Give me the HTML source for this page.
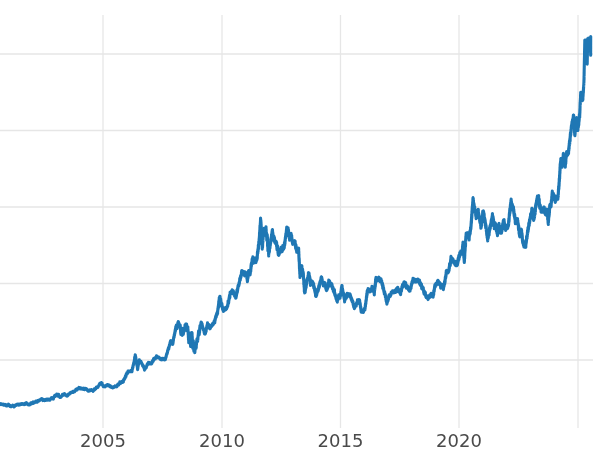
<!DOCTYPE html>
<html lang="en">
<head>
<meta charset="utf-8">
<title>Chart</title>
<style>
  html, body { margin: 0; padding: 0; background: #ffffff; }
  body { width: 600px; height: 450px; overflow: hidden; }
  svg { display: block; will-change: transform; }
  .grid line { stroke: #e6e6e6; stroke-width: 1.3; }
  .ticks text { font-family: "DejaVu Sans", "Liberation Sans", sans-serif; font-size: 18px; fill: #4a4a4a; text-anchor: middle; }
  .series { fill: none; stroke: #1f77b4; stroke-width: 3.1; stroke-linejoin: round; stroke-linecap: butt; }
</style>
</head>
<body>
<svg width="600" height="450" viewBox="0 0 600 450">
  <rect x="0" y="0" width="600" height="450" fill="#ffffff"/>
  <g class="grid">
    <line x1="0" y1="54" x2="593" y2="54"/>
    <line x1="0" y1="130.5" x2="593" y2="130.5"/>
    <line x1="0" y1="207" x2="593" y2="207"/>
    <line x1="0" y1="283.5" x2="593" y2="283.5"/>
    <line x1="0" y1="360" x2="593" y2="360"/>
    <line x1="103" y1="15" x2="103" y2="428"/>
    <line x1="222" y1="15" x2="222" y2="428"/>
    <line x1="340.5" y1="15" x2="340.5" y2="428"/>
    <line x1="459" y1="15" x2="459" y2="428"/>
    <line x1="578" y1="15" x2="578" y2="428"/>
  </g>
  <polyline class="series" points="-2.00,403.64 -1.50,404.62 -1.00,403.53 -0.50,404.73 0.00,403.78 0.40,404.26 0.80,403.58 1.20,404.43 1.60,404.13 2.00,404.67 2.43,404.09 2.86,404.54 3.29,404.22 3.71,405.24 4.14,404.67 4.57,405.19 5.00,404.42 5.43,405.33 5.86,404.91 6.29,406.00 6.71,405.12 7.14,405.98 7.57,404.76 8.00,405.33 8.43,404.20 8.86,405.48 9.29,405.11 9.71,406.32 10.14,405.38 10.57,406.78 11.00,405.99 11.44,406.67 11.88,405.72 12.31,406.05 12.75,405.16 13.19,406.18 13.62,406.15 14.06,406.90 14.50,405.84 14.89,406.28 15.28,405.21 15.67,405.67 16.06,404.80 16.44,405.34 16.83,404.24 17.22,404.96 17.61,404.05 18.00,404.54 18.43,404.10 18.86,405.17 19.29,404.39 19.71,404.84 20.14,404.10 20.57,404.63 21.00,403.92 21.44,404.29 21.89,403.69 22.33,404.24 22.78,403.51 23.22,403.97 23.67,403.79 24.11,404.66 24.56,403.78 25.00,404.47 25.45,403.10 25.91,403.74 26.36,402.63 26.82,403.89 27.27,403.70 27.73,404.62 28.18,403.89 28.64,404.82 29.09,404.06 29.55,404.95 30.00,404.03 30.40,403.76 30.80,402.87 31.20,404.11 31.60,403.71 32.00,403.71 32.40,402.42 32.80,402.84 33.20,401.86 33.60,403.31 34.00,402.28 34.44,402.80 34.89,401.83 35.33,402.17 35.78,401.12 36.22,402.06 36.67,401.66 37.11,402.20 37.56,400.71 38.00,401.14 38.40,400.28 38.80,401.19 39.20,400.14 39.60,400.58 40.00,399.79 40.40,400.03 40.80,399.24 41.20,399.63 41.60,398.66 42.00,399.49 42.44,399.01 42.88,400.58 43.31,399.51 43.75,400.12 44.19,399.63 44.62,400.51 45.06,399.87 45.50,400.35 45.94,399.25 46.38,400.19 46.81,399.43 47.25,400.13 47.69,399.19 48.12,399.89 48.56,399.11 49.00,400.07 49.44,399.36 49.89,400.08 50.33,398.96 50.78,399.16 51.22,397.89 51.67,398.42 52.11,397.58 52.56,398.64 53.00,398.28 53.31,399.16 53.62,397.72 53.92,397.48 54.23,396.27 54.54,396.41 54.85,395.23 55.15,396.47 55.46,395.54 55.77,395.89 56.08,394.89 56.38,395.14 56.69,394.18 57.00,394.72 57.34,394.28 57.67,395.56 58.01,395.01 58.35,396.23 58.68,394.39 59.02,396.18 59.35,396.29 59.69,397.42 60.03,396.85 60.36,397.46 60.70,396.92 61.00,397.23 61.30,396.28 61.60,396.55 61.90,395.73 62.20,395.71 62.50,394.29 62.80,395.07 63.10,394.48 63.40,395.24 63.70,393.97 64.00,394.10 64.41,393.53 64.83,394.89 65.24,394.49 65.65,395.23 66.06,394.91 66.47,395.90 66.89,395.69 67.30,396.16 67.67,394.88 68.05,395.44 68.42,393.99 68.80,394.56 69.17,393.81 69.55,394.08 69.92,392.92 70.30,393.25 70.67,392.36 71.05,393.00 71.42,392.00 71.80,392.56 72.17,391.89 72.55,392.20 72.92,391.45 73.30,392.28 73.67,391.31 74.05,391.95 74.42,390.96 74.80,391.57 75.17,390.51 75.55,390.64 75.92,389.21 76.30,389.76 76.67,388.80 77.05,390.01 77.42,388.89 77.80,389.17 78.17,388.41 78.55,388.67 78.92,387.41 79.30,388.08 79.72,387.57 80.15,388.98 80.58,388.12 81.00,388.96 81.42,388.22 81.85,388.92 82.28,388.31 82.70,389.25 83.13,388.61 83.57,389.32 84.00,388.22 84.43,389.68 84.87,388.59 85.30,388.88 85.64,388.37 85.97,389.27 86.31,388.65 86.65,389.86 86.99,389.18 87.33,390.41 87.66,390.10 88.00,391.04 88.43,390.49 88.86,391.11 89.29,390.19 89.71,390.54 90.14,389.80 90.57,390.71 91.00,389.95 91.43,390.43 91.86,389.73 92.29,390.62 92.71,390.28 93.14,391.33 93.57,389.93 94.00,390.41 94.33,388.75 94.66,389.80 95.00,388.77 95.33,389.20 95.66,388.59 95.99,388.60 96.32,387.20 96.65,387.64 96.99,386.91 97.32,387.38 97.65,386.62 97.98,387.36 98.31,386.18 98.65,386.04 98.98,384.92 99.31,385.06 99.64,383.64 99.97,384.29 100.30,383.18 100.64,384.16 100.97,382.81 101.30,383.33 101.55,382.83 101.80,383.83 102.05,382.89 102.30,384.80 102.55,384.76 102.80,385.85 103.05,385.30 103.30,386.58 103.74,385.91 104.19,386.65 104.63,385.84 105.08,386.77 105.52,386.02 105.97,386.20 106.41,385.17 106.86,385.56 107.30,384.49 107.70,385.27 108.10,384.67 108.50,385.91 108.90,385.01 109.30,386.10 109.70,385.70 110.10,386.78 110.50,385.94 110.90,387.16 111.30,386.62 111.77,387.46 112.24,386.90 112.71,387.92 113.18,386.99 113.65,387.60 114.12,386.62 114.59,387.02 115.06,385.91 115.53,386.67 116.00,386.03 116.31,386.61 116.63,386.20 116.94,386.76 117.25,385.17 117.57,385.20 117.88,384.13 118.19,385.18 118.51,384.73 118.82,384.81 119.13,383.67 119.45,383.57 119.76,381.91 120.07,382.31 120.39,381.82 120.70,383.36 121.13,382.00 121.57,382.20 122.00,381.50 122.43,382.40 122.87,381.61 123.30,381.99 123.49,379.99 123.68,380.20 123.86,379.20 124.05,379.94 124.24,378.78 124.43,379.15 124.62,378.12 124.80,378.79 124.99,377.80 125.18,377.96 125.37,376.12 125.56,376.81 125.74,375.69 125.93,376.54 126.12,374.41 126.31,375.08 126.50,373.71 126.68,374.21 126.87,372.70 127.06,374.05 127.25,373.18 127.44,373.61 127.62,372.18 127.81,372.60 128.00,371.08 128.44,372.20 128.89,371.13 129.33,371.80 129.78,371.07 130.22,371.67 130.67,370.55 131.11,371.34 131.56,370.64 132.00,371.72 132.09,369.94 132.18,370.12 132.28,369.02 132.37,369.43 132.46,367.89 132.55,368.63 132.64,367.30 132.73,368.23 132.82,366.97 132.92,367.32 133.01,365.68 133.10,365.81 133.19,365.05 133.28,365.62 133.38,364.64 133.47,364.86 133.56,363.58 133.65,364.11 133.74,362.72 133.83,363.26 133.93,362.15 134.02,363.09 134.11,361.45 134.20,362.04 134.29,360.39 134.38,360.95 134.48,359.27 134.57,359.80 134.66,357.07 134.75,358.58 134.84,357.41 134.93,358.14 135.03,356.31 135.12,357.15 135.21,354.87 135.30,356.01 135.38,355.06 135.45,357.14 135.53,356.71 135.61,357.85 135.68,356.58 135.76,358.07 135.84,357.58 135.91,359.20 135.99,358.71 136.07,360.73 136.14,359.87 136.22,361.59 136.30,361.16 136.37,362.22 136.45,361.34 136.53,362.65 136.60,361.95 136.68,363.38 136.76,363.33 136.83,365.09 136.91,364.29 136.99,365.04 137.06,364.39 137.14,366.38 137.22,365.47 137.29,366.94 137.37,366.63 137.45,368.36 137.52,368.19 137.60,369.61 137.69,367.63 137.78,368.97 137.87,367.13 137.96,367.52 138.05,365.42 138.14,366.28 138.23,364.91 138.32,365.53 138.41,363.97 138.49,364.60 138.58,363.00 138.67,363.52 138.76,362.26 138.85,362.95 138.94,361.95 139.03,362.44 139.12,361.09 139.21,361.79 139.30,359.71 139.57,361.77 139.84,360.98 140.11,362.72 140.38,361.87 140.65,362.56 140.92,361.16 141.19,362.91 141.46,362.66 141.73,363.94 142.00,363.49 142.19,364.52 142.39,364.21 142.58,365.95 142.77,365.26 142.96,366.35 143.16,365.35 143.35,366.65 143.54,365.97 143.74,367.54 143.93,367.15 144.12,368.45 144.31,367.89 144.51,370.09 144.70,368.68 144.92,369.39 145.14,368.20 145.36,368.65 145.58,367.14 145.80,368.24 146.02,367.22 146.24,367.74 146.46,366.29 146.68,366.58 146.90,365.05 147.12,365.20 147.34,363.70 147.56,364.61 147.78,363.67 148.00,364.48 148.47,362.39 148.94,363.92 149.41,362.56 149.89,363.83 150.36,362.82 150.83,363.83 151.30,362.76 151.53,364.00 151.75,362.60 151.98,363.36 152.20,361.30 152.43,362.29 152.65,360.44 152.88,361.12 153.10,360.20 153.32,361.12 153.55,358.71 153.78,359.87 154.00,358.23 154.41,358.96 154.82,357.79 155.24,358.96 155.65,357.51 156.06,358.03 156.48,355.82 156.89,357.17 157.30,356.62 157.70,357.58 158.10,356.96 158.50,357.99 158.90,357.20 159.30,358.27 159.70,357.88 160.10,359.27 160.50,358.68 160.90,359.59 161.30,359.11 161.74,359.74 162.19,358.47 162.63,359.53 163.08,358.44 163.52,359.52 163.97,358.83 164.41,359.92 164.86,358.06 165.30,359.74 165.44,358.01 165.57,358.74 165.71,357.55 165.84,357.81 165.98,356.72 166.11,357.04 166.25,355.44 166.38,355.95 166.52,354.20 166.65,354.90 166.78,353.53 166.92,354.34 167.06,353.00 167.19,353.69 167.32,352.25 167.46,352.57 167.59,350.70 167.73,351.00 167.87,349.69 168.00,350.52 168.13,348.82 168.27,349.09 168.41,347.88 168.54,349.30 168.68,348.24 168.81,348.99 168.94,346.75 169.08,347.48 169.22,345.88 169.35,346.60 169.48,344.68 169.62,345.72 169.75,344.04 169.89,344.81 170.02,342.72 170.16,344.04 170.29,341.66 170.43,342.92 170.56,340.87 170.70,341.70 171.03,340.66 171.37,342.63 171.70,341.59 172.03,343.48 172.37,343.08 172.70,344.36 172.79,342.96 172.88,343.83 172.97,341.92 173.06,342.93 173.15,340.86 173.24,341.55 173.33,339.26 173.42,340.32 173.51,338.31 173.60,338.64 173.69,337.13 173.78,338.23 173.87,336.70 173.96,337.64 174.04,336.19 174.13,337.11 174.22,334.79 174.31,335.37 174.40,334.14 174.49,335.47 174.58,333.69 174.67,334.19 174.76,332.32 174.85,333.35 174.94,331.57 175.03,332.46 175.12,330.40 175.21,330.97 175.30,329.40 175.41,331.12 175.52,328.64 175.63,329.74 175.74,326.77 175.85,328.81 175.95,327.72 176.06,328.22 176.17,325.84 176.28,327.04 176.39,325.12 176.50,326.18 176.60,325.06 176.70,327.86 176.80,326.74 176.90,328.71 177.00,327.92 177.11,328.40 177.21,326.64 177.32,327.25 177.43,324.93 177.54,326.09 177.64,323.83 177.75,325.02 177.86,322.51 177.96,325.58 178.07,322.85 178.18,323.66 178.29,321.59 178.39,324.64 178.50,321.87 178.62,323.96 178.75,322.42 178.88,324.07 179.00,323.28 179.12,325.03 179.25,324.20 179.38,325.91 179.50,324.95 179.85,326.36 180.20,325.08 180.23,327.74 180.26,325.24 180.29,326.81 180.33,326.38 180.36,328.17 180.39,326.71 180.42,328.96 180.45,327.79 180.48,329.91 180.52,328.65 180.55,330.44 180.58,330.13 180.61,331.88 180.64,330.69 180.67,332.90 180.71,331.59 180.74,332.92 180.77,332.21 180.80,333.86 180.87,332.57 180.93,334.34 181.00,332.02 181.07,333.23 181.13,331.14 181.20,332.18 181.27,329.75 181.33,330.33 181.40,328.50 181.45,330.86 181.51,330.17 181.56,332.26 181.62,330.72 181.67,333.67 181.72,331.80 181.78,334.04 181.83,332.23 181.88,334.11 181.94,332.20 181.99,335.06 182.05,333.98 182.10,335.41 182.15,333.50 182.19,334.57 182.24,333.42 182.28,334.33 182.33,332.32 182.38,333.49 182.42,331.99 182.47,332.89 182.52,330.60 182.56,331.53 182.61,329.27 182.65,330.09 182.70,328.20 182.77,330.81 182.83,329.97 182.90,332.01 182.97,330.97 183.03,332.56 183.10,331.51 183.17,333.39 183.23,331.88 183.30,334.40 183.36,332.97 183.42,333.58 183.48,331.81 183.54,332.51 183.60,330.12 183.66,330.51 183.72,329.49 183.78,330.96 183.84,328.94 183.90,329.52 184.03,328.42 184.15,330.24 184.28,328.97 184.40,331.11 184.45,329.10 184.51,329.74 184.56,328.73 184.62,330.16 184.67,328.22 184.73,329.67 184.78,327.86 184.84,328.88 184.89,326.33 184.95,327.07 185.00,324.70 185.38,326.02 185.75,324.08 186.12,326.04 186.50,324.10 186.57,325.23 186.63,324.15 186.70,326.74 186.77,325.77 186.83,327.94 186.90,326.46 186.97,328.76 187.03,328.33 187.10,330.35 187.17,329.42 187.23,331.03 187.30,329.97 187.40,330.93 187.50,328.85 187.60,329.36 187.70,327.49 187.80,327.82 187.83,326.85 187.86,329.25 187.89,328.70 187.93,331.39 187.96,328.99 187.99,330.61 188.02,329.81 188.05,332.32 188.08,331.53 188.11,332.83 188.14,331.87 188.18,333.78 188.21,333.30 188.24,335.08 188.27,333.42 188.30,335.08 188.33,334.91 188.36,337.36 188.39,336.27 188.43,337.70 188.46,336.72 188.49,339.78 188.52,338.36 188.55,339.57 188.58,338.98 188.61,340.50 188.64,339.16 188.68,340.27 188.71,340.42 188.74,342.71 188.77,341.40 188.80,342.82 188.84,340.91 188.88,341.74 188.93,339.88 188.97,340.81 189.01,337.93 189.05,339.66 189.09,338.27 189.14,339.55 189.18,337.65 189.22,338.34 189.26,336.83 189.31,338.16 189.35,335.62 189.39,336.34 189.43,334.68 189.47,335.89 189.52,332.88 189.56,334.99 189.60,333.23 189.64,336.10 189.68,334.83 189.72,336.26 189.75,335.60 189.79,337.45 189.83,336.62 189.87,337.97 189.91,337.15 189.95,338.30 189.98,337.80 190.02,339.51 190.06,338.85 190.10,340.41 190.14,339.07 190.18,341.28 190.22,340.40 190.25,342.24 190.29,341.29 190.33,343.10 190.37,342.14 190.41,343.67 190.45,341.96 190.48,344.95 190.52,344.48 190.56,346.18 190.60,344.79 190.63,346.42 190.66,344.04 190.69,344.86 190.72,342.93 190.75,343.86 190.78,342.64 190.81,343.26 190.84,341.64 190.87,342.59 190.90,340.99 190.93,341.82 190.97,339.93 191.00,340.50 191.03,338.58 191.06,338.96 191.09,337.22 191.12,338.07 191.15,335.98 191.18,337.41 191.21,335.52 191.24,336.36 191.27,334.31 191.30,335.03 191.48,333.52 191.65,334.21 191.82,332.51 192.00,333.07 192.03,332.75 192.05,334.97 192.08,333.60 192.10,336.14 192.13,335.71 192.15,337.47 192.18,336.40 192.21,337.85 192.23,336.37 192.26,338.44 192.28,337.36 192.31,339.54 192.34,338.96 192.36,340.35 192.39,339.80 192.41,341.47 192.44,340.27 192.46,342.29 192.49,341.69 192.52,343.12 192.54,342.11 192.57,343.86 192.59,343.20 192.62,345.09 192.65,343.66 192.67,346.12 192.70,344.89 192.72,346.78 192.75,346.34 192.77,348.11 192.80,347.10 192.83,348.30 192.87,346.10 192.90,346.59 192.93,344.99 192.97,345.71 193.00,343.85 193.03,344.44 193.07,342.30 193.10,343.86 193.13,342.39 193.17,343.80 193.20,341.78 193.23,342.33 193.27,340.54 193.30,342.03 193.33,341.13 193.35,342.72 193.38,342.21 193.40,343.57 193.43,342.50 193.45,343.80 193.48,343.17 193.50,344.83 193.53,344.15 193.55,346.17 193.58,345.17 193.60,346.84 193.62,345.87 193.65,347.68 193.68,347.30 193.70,348.63 193.72,347.29 193.75,348.80 193.78,348.29 193.80,350.65 193.83,349.35 193.85,351.07 193.88,349.84 193.90,351.29 193.93,350.00 193.95,350.92 193.98,349.54 194.01,350.04 194.03,348.60 194.06,349.86 194.09,347.78 194.11,348.50 194.14,346.81 194.17,347.29 194.19,345.60 194.22,346.09 194.25,344.81 194.27,345.52 194.30,343.20 194.33,344.96 194.36,344.66 194.39,346.22 194.42,345.47 194.45,346.83 194.48,346.29 194.51,348.02 194.54,347.81 194.56,349.56 194.59,348.53 194.62,349.96 194.65,349.16 194.68,350.46 194.71,349.75 194.74,351.55 194.77,351.15 194.80,352.62 194.84,351.42 194.88,352.23 194.92,350.75 194.96,351.25 195.01,349.41 195.05,350.19 195.09,348.62 195.13,349.71 195.17,347.88 195.21,348.44 195.25,346.26 195.29,347.55 195.34,345.93 195.38,346.48 195.42,344.53 195.46,345.22 195.50,343.61 195.56,346.01 195.62,344.73 195.69,347.09 195.75,345.47 195.81,346.78 195.88,346.35 195.94,347.93 196.00,347.72 196.05,348.52 196.10,346.26 196.14,347.39 196.19,346.20 196.24,347.77 196.29,345.45 196.33,345.44 196.38,344.00 196.43,344.82 196.48,343.31 196.52,344.20 196.57,341.51 196.62,342.81 196.67,340.79 196.71,342.46 196.76,340.47 196.81,342.44 196.86,339.60 196.90,340.67 196.95,338.83 197.00,339.40 197.10,338.80 197.20,340.07 197.30,339.10 197.40,340.78 197.50,339.58 197.60,341.39 197.65,339.67 197.70,340.69 197.74,339.05 197.79,340.17 197.84,338.59 197.89,339.11 197.93,336.80 197.98,337.57 198.03,336.12 198.08,337.06 198.12,335.11 198.17,335.92 198.22,334.90 198.27,336.15 198.31,334.14 198.36,334.41 198.41,332.66 198.46,333.57 198.50,331.92 198.55,333.25 198.60,330.79 198.70,332.39 198.80,331.45 198.90,333.51 199.00,332.82 199.10,334.68 199.20,334.16 199.24,334.83 199.28,332.61 199.33,333.77 199.37,331.73 199.41,333.13 199.45,331.19 199.49,332.62 199.54,330.24 199.58,332.37 199.62,329.70 199.66,331.11 199.71,327.71 199.75,328.70 199.79,327.18 199.83,328.67 199.87,326.65 199.92,327.82 199.96,325.45 200.00,326.22 200.17,325.49 200.33,327.55 200.50,326.07 200.56,327.67 200.63,326.35 200.69,327.28 200.75,324.94 200.82,326.15 200.88,322.71 200.95,324.54 201.01,322.94 201.07,323.69 201.14,321.98 201.20,323.00 201.34,322.30 201.47,323.80 201.61,322.65 201.74,324.92 201.88,323.76 202.01,325.72 202.15,323.79 202.29,327.03 202.42,325.50 202.56,327.53 202.69,326.63 202.83,328.01 202.96,327.46 203.10,329.69 203.24,328.67 203.37,330.01 203.51,329.59 203.64,330.63 203.78,329.40 203.91,331.69 204.05,330.94 204.19,332.83 204.32,332.16 204.46,333.98 204.59,332.54 204.73,334.05 204.86,331.71 205.00,334.24 205.11,332.59 205.22,333.52 205.33,332.33 205.43,333.58 205.54,331.80 205.65,332.46 205.76,330.17 205.87,330.75 205.98,329.06 206.09,331.65 206.20,328.97 206.30,329.85 206.41,327.89 206.52,328.92 206.63,327.27 206.74,328.44 206.85,325.84 206.96,327.57 207.07,325.03 207.17,326.66 207.28,324.80 207.39,326.06 207.50,322.90 207.75,325.27 208.00,324.58 208.25,326.03 208.50,325.15 208.75,327.07 209.00,324.56 209.25,327.69 209.50,326.49 209.75,328.82 210.00,327.52 210.28,328.69 210.56,326.27 210.84,327.43 211.12,326.04 211.40,326.85 211.68,325.20 211.96,325.94 212.24,324.17 212.52,325.16 212.80,323.38 213.08,325.00 213.36,323.74 213.64,323.91 213.92,321.60 214.20,323.05 214.34,321.23 214.49,322.51 214.63,320.18 214.77,322.87 214.92,319.34 215.06,321.03 215.20,318.69 215.35,319.18 215.49,317.09 215.63,318.44 215.78,316.17 215.92,317.41 216.07,315.75 216.21,317.05 216.35,314.60 216.50,315.99 216.64,313.55 216.78,314.99 216.93,313.44 217.07,313.93 217.21,312.24 217.36,313.24 217.50,311.73 217.56,314.14 217.63,310.68 217.69,311.74 217.75,310.05 217.81,310.46 217.88,308.67 217.94,310.04 218.00,308.12 218.07,309.17 218.13,307.17 218.19,308.62 218.25,306.04 218.32,307.59 218.38,305.66 218.44,306.93 218.51,304.25 218.57,307.22 218.63,303.35 218.69,304.30 218.76,301.34 218.82,302.84 218.88,300.87 218.95,302.00 219.01,300.38 219.07,301.69 219.13,299.39 219.20,301.13 219.26,297.57 219.32,299.87 219.39,298.02 219.45,299.60 219.51,297.97 219.57,299.31 219.64,297.39 219.70,298.56 219.81,296.45 219.92,298.02 220.04,296.29 220.15,298.66 220.26,298.07 220.38,300.64 220.49,299.38 220.60,301.13 220.71,298.92 220.82,301.75 220.94,300.86 221.05,304.18 221.16,302.82 221.28,306.01 221.39,303.60 221.50,305.19 221.61,304.49 221.72,306.46 221.84,303.20 221.95,306.75 222.06,304.78 222.18,307.66 222.29,306.13 222.40,308.05 222.51,307.66 222.62,309.59 222.74,308.14 222.85,309.92 222.96,308.08 223.08,310.35 223.19,308.96 223.30,311.51 223.62,310.24 223.95,311.15 224.27,308.93 224.59,310.08 224.92,307.83 225.24,309.88 225.56,307.94 225.88,309.78 226.21,307.71 226.53,308.91 226.85,306.80 227.18,307.58 227.50,305.32 227.59,305.91 227.69,304.60 227.78,306.11 227.88,303.44 227.97,304.72 228.06,300.85 228.16,304.02 228.25,301.84 228.34,303.48 228.44,301.90 228.53,303.56 228.62,301.10 228.72,302.38 228.81,299.94 228.91,300.49 229.00,298.21 229.09,299.86 229.19,297.33 229.28,298.78 229.38,295.93 229.47,297.80 229.56,295.16 229.66,298.27 229.75,295.38 229.84,297.61 229.94,294.73 230.03,295.11 230.12,291.97 230.22,294.39 230.31,292.55 230.41,294.37 230.50,292.25 230.92,293.60 231.33,291.38 231.75,292.29 232.17,289.75 232.58,292.19 233.00,290.56 233.17,293.96 233.35,290.79 233.52,293.68 233.69,292.54 233.87,294.56 234.04,292.43 234.21,294.75 234.39,293.67 234.56,296.21 234.73,294.16 234.91,296.52 235.08,295.56 235.25,297.45 235.43,295.94 235.60,298.26 235.70,296.60 235.81,298.13 235.91,295.91 236.02,297.89 236.12,295.15 236.22,297.05 236.33,294.07 236.43,295.94 236.53,293.85 236.64,294.64 236.74,291.53 236.85,293.13 236.95,289.68 237.05,291.91 237.16,289.81 237.26,292.65 237.37,288.94 237.47,291.41 237.57,288.54 237.68,290.11 237.78,287.35 237.88,288.49 237.99,285.82 238.09,287.91 238.20,285.35 238.30,287.05 238.41,285.14 238.52,286.57 238.63,285.03 238.74,286.15 238.85,283.85 238.96,285.52 239.07,282.64 239.18,284.37 239.29,282.06 239.40,283.50 239.51,281.03 239.62,281.23 239.73,278.65 239.84,281.06 239.95,278.31 240.05,280.29 240.16,278.95 240.27,280.23 240.38,276.83 240.49,278.55 240.60,275.72 240.71,278.23 240.82,276.18 240.93,277.44 241.04,275.50 241.15,276.51 241.26,274.39 241.37,275.79 241.48,271.78 241.59,274.12 241.70,270.62 242.11,273.87 242.52,271.61 242.94,274.20 243.35,271.28 243.76,274.32 244.18,272.73 244.59,275.84 245.00,271.90 245.25,275.13 245.50,272.90 245.75,275.56 246.00,272.57 246.25,275.98 246.50,272.99 246.56,274.96 246.62,273.24 246.68,275.66 246.74,274.17 246.80,277.04 246.86,275.33 246.92,278.79 246.98,276.62 247.04,278.31 247.10,277.09 247.16,278.96 247.22,277.09 247.28,280.68 247.34,278.92 247.40,281.66 247.46,279.56 247.53,281.20 247.59,278.49 247.66,279.46 247.72,277.29 247.79,278.57 247.85,274.10 247.91,277.54 247.98,275.72 248.04,277.92 248.11,273.92 248.17,275.22 248.24,271.51 248.30,274.56 248.40,271.83 248.50,273.66 248.60,270.54 248.70,273.56 248.80,270.53 248.90,272.70 249.00,270.86 249.17,273.55 249.33,270.89 249.50,272.56 249.67,271.88 249.83,274.07 250.00,272.50 250.09,274.96 250.17,272.00 250.26,273.98 250.34,270.68 250.43,272.10 250.51,269.88 250.60,271.94 250.66,269.90 250.71,271.83 250.77,268.44 250.82,270.42 250.88,267.22 250.94,268.68 250.99,265.59 251.05,268.23 251.11,264.69 251.16,266.19 251.22,263.84 251.28,265.76 251.33,263.73 251.39,266.28 251.44,262.95 251.50,264.53 251.62,262.46 251.75,264.52 251.88,262.08 252.00,262.09 252.12,259.03 252.25,260.34 252.38,258.47 252.50,260.78 252.62,257.87 252.75,259.02 252.88,256.85 253.00,258.58 253.12,258.31 253.25,260.79 253.38,258.79 253.50,261.90 253.62,259.58 253.75,263.20 253.88,261.11 254.00,262.79 254.14,260.65 254.29,262.31 254.43,260.45 254.57,261.89 254.71,258.62 254.86,260.39 255.00,257.98 255.12,260.27 255.25,258.59 255.38,261.32 255.50,259.37 255.62,261.29 255.75,259.59 255.88,262.66 256.00,260.27 256.12,262.06 256.25,258.66 256.38,260.18 256.50,258.52 256.62,260.74 256.75,258.60 256.88,260.01 257.00,256.42 257.06,259.09 257.11,256.23 257.17,258.91 257.22,256.18 257.28,258.32 257.33,254.76 257.39,255.63 257.44,252.07 257.50,254.41 257.56,251.36 257.61,253.58 257.67,251.35 257.72,252.59 257.78,250.64 257.83,253.26 257.89,249.21 257.94,251.71 258.00,248.90 258.06,251.61 258.11,248.90 258.17,250.52 258.22,247.18 258.28,249.47 258.33,245.03 258.39,248.06 258.44,245.25 258.50,248.93 258.56,245.08 258.61,246.93 258.67,243.95 258.72,245.74 258.78,241.51 258.83,244.57 258.89,241.66 258.94,243.76 259.00,241.07 259.03,244.19 259.07,241.14 259.10,241.87 259.13,238.87 259.16,241.42 259.20,238.64 259.23,240.87 259.26,238.06 259.29,239.92 259.33,236.68 259.36,239.62 259.39,236.98 259.43,238.96 259.46,235.63 259.49,236.91 259.52,232.56 259.56,235.33 259.59,232.19 259.62,234.38 259.65,231.88 259.69,234.52 259.72,232.25 259.75,234.64 259.78,230.08 259.82,232.22 259.85,229.47 259.88,230.80 259.92,227.39 259.95,230.81 259.98,225.59 260.01,230.03 260.05,226.19 260.08,228.70 260.11,225.72 260.14,228.60 260.18,224.74 260.21,228.79 260.24,225.09 260.27,226.62 260.31,223.10 260.34,224.94 260.37,222.33 260.41,224.10 260.44,220.90 260.47,223.43 260.50,219.33 260.54,222.36 260.57,218.10 260.60,222.36 260.63,218.97 260.67,221.33 260.70,219.15 260.72,222.71 260.75,220.37 260.77,223.48 260.80,221.28 260.82,223.31 260.85,220.37 260.88,223.89 260.90,221.80 260.93,224.97 260.95,222.42 260.97,225.82 261.00,221.73 261.02,225.61 261.05,223.03 261.07,226.05 261.10,223.96 261.12,226.14 261.15,224.17 261.18,229.59 261.20,227.39 261.23,229.81 261.25,226.01 261.27,229.88 261.30,227.91 261.32,230.17 261.35,228.11 261.38,231.40 261.40,227.91 261.43,231.85 261.45,229.86 261.48,234.15 261.50,232.94 261.52,236.28 261.55,233.20 261.57,235.48 261.60,232.78 261.62,236.17 261.65,234.05 261.68,238.37 261.70,235.32 261.73,238.42 261.75,235.34 261.77,239.68 261.80,237.45 261.82,241.42 261.85,239.14 261.88,241.99 261.90,239.36 261.93,241.60 261.95,239.81 261.98,243.33 262.00,241.18 262.03,244.63 262.05,243.35 262.07,244.63 262.10,242.31 262.12,245.38 262.15,242.94 262.18,245.76 262.20,245.23 262.23,249.08 262.25,246.29 262.28,248.26 262.30,244.90 262.34,248.04 262.37,246.22 262.41,247.83 262.44,245.02 262.48,247.41 262.52,243.74 262.55,247.23 262.59,243.27 262.62,245.65 262.66,241.86 262.69,243.84 262.73,240.21 262.77,241.73 262.80,238.85 262.84,242.43 262.87,239.36 262.91,241.94 262.95,239.02 262.98,240.14 263.02,236.37 263.05,239.32 263.09,236.50 263.13,238.14 263.16,235.55 263.20,237.07 263.23,234.07 263.27,236.67 263.31,234.26 263.34,236.58 263.38,231.79 263.41,233.54 263.45,231.92 263.48,235.07 263.52,232.07 263.56,234.83 263.59,230.61 263.63,232.97 263.66,228.55 263.70,231.04 264.16,228.42 264.62,231.21 265.08,228.40 265.54,230.29 266.00,226.77 266.04,230.02 266.08,228.39 266.12,232.86 266.16,229.33 266.20,232.82 266.24,232.13 266.28,235.37 266.32,233.58 266.36,236.46 266.40,233.54 266.44,236.10 266.48,233.36 266.52,236.44 266.56,232.92 266.60,236.72 266.64,233.52 266.68,237.00 266.72,236.52 266.76,240.11 266.80,237.06 266.87,238.78 266.93,236.01 267.00,237.57 267.07,234.74 267.13,236.80 267.20,234.47 267.22,237.61 267.25,234.85 267.27,236.68 267.30,235.54 267.32,238.14 267.35,236.31 267.38,239.61 267.40,237.34 267.43,240.05 267.45,237.38 267.47,241.46 267.50,239.25 267.52,242.81 267.55,241.53 267.57,246.14 267.60,242.61 267.62,244.63 267.65,243.14 267.67,245.46 267.70,243.12 267.72,245.22 267.75,243.08 267.77,246.36 267.80,244.48 267.82,248.47 267.85,246.26 267.88,250.70 267.90,247.57 267.95,248.44 268.00,245.66 268.05,246.95 268.10,243.82 268.15,248.07 268.20,244.22 268.23,247.72 268.25,245.60 268.28,248.10 268.31,246.97 268.33,249.61 268.36,248.27 268.38,251.14 268.41,249.34 268.44,252.02 268.46,247.74 268.49,251.16 268.52,250.08 268.54,253.09 268.57,250.67 268.59,253.82 268.62,251.63 268.65,254.76 268.67,252.45 268.70,255.88 268.77,252.00 268.84,253.72 268.91,251.05 268.98,252.90 269.05,249.94 269.12,252.76 269.19,249.65 269.26,251.61 269.33,249.30 269.40,251.95 269.47,249.04 269.54,250.04 269.61,246.32 269.68,248.35 269.75,244.61 269.82,248.13 269.89,245.52 269.96,248.25 270.03,244.27 270.10,245.24 270.17,243.22 270.24,246.40 270.31,243.16 270.38,244.95 270.45,242.05 270.52,243.65 270.58,241.95 270.65,243.30 270.72,238.95 270.79,241.13 270.86,238.65 270.93,241.14 271.00,239.21 271.07,240.17 271.14,236.94 271.21,240.16 271.28,237.21 271.35,239.70 271.42,235.87 271.49,237.37 271.56,234.35 271.63,236.49 271.70,233.75 271.77,236.05 271.84,234.38 271.91,235.58 271.98,231.79 272.05,234.92 272.12,231.02 272.19,232.14 272.26,229.86 272.33,232.66 272.40,229.65 272.45,231.99 272.49,229.44 272.54,233.62 272.59,231.26 272.64,235.07 272.68,233.68 272.73,236.37 272.78,233.46 272.82,235.60 272.87,232.82 272.92,235.66 272.96,234.94 273.01,238.10 273.06,236.50 273.11,239.18 273.15,237.85 273.20,240.04 273.32,237.38 273.45,240.14 273.57,236.80 273.70,238.16 273.80,235.69 273.90,238.81 274.00,236.78 274.10,241.19 274.20,237.67 274.30,240.79 274.40,237.26 274.50,240.10 274.60,238.88 274.70,242.15 274.80,240.02 274.90,242.83 275.00,241.60 275.43,243.31 275.87,241.04 276.30,243.60 276.35,241.59 276.40,244.61 276.45,242.71 276.50,246.06 276.55,243.20 276.60,245.09 276.65,242.57 276.70,246.77 276.75,244.51 276.80,246.81 276.85,246.20 276.90,248.62 276.95,247.59 277.00,249.76 277.12,246.64 277.25,247.69 277.38,245.51 277.50,247.27 277.56,245.87 277.62,249.78 277.68,247.72 277.74,249.87 277.81,248.31 277.87,251.11 277.93,250.23 277.99,252.63 278.05,251.34 278.11,253.75 278.17,251.81 278.23,254.65 278.29,251.29 278.36,253.97 278.42,250.81 278.48,254.11 278.54,253.00 278.60,255.29 278.68,252.53 278.76,255.51 278.83,252.87 278.91,255.32 278.99,251.87 279.07,253.98 279.14,250.64 279.22,252.46 279.30,249.77 279.43,253.37 279.55,250.86 279.68,253.53 279.80,251.09 279.95,252.75 280.10,250.17 280.25,252.54 280.40,250.73 280.55,251.99 280.70,248.53 280.85,249.77 281.00,247.26 281.25,250.20 281.50,247.72 281.75,250.77 282.00,249.27 282.13,251.61 282.27,249.11 282.40,250.86 282.53,247.30 282.67,249.16 282.80,245.52 283.10,249.64 283.40,246.28 283.70,249.31 283.77,246.14 283.84,248.42 283.91,245.01 283.98,247.10 284.05,244.85 284.12,247.94 284.19,246.09 284.26,247.86 284.33,243.83 284.40,244.89 284.47,242.23 284.54,245.61 284.61,242.61 284.68,245.44 284.75,241.85 284.82,244.37 284.89,240.97 284.96,243.61 285.03,240.06 285.10,241.42 285.17,239.21 285.23,241.27 285.30,237.84 285.37,239.51 285.44,236.99 285.51,239.14 285.58,235.98 285.65,238.50 285.72,234.91 285.79,237.05 285.86,233.45 285.93,237.76 286.00,234.56 286.07,236.69 286.14,232.96 286.21,234.45 286.28,231.44 286.35,232.83 286.42,229.86 286.49,231.17 286.56,228.82 286.63,230.71 286.70,227.02 287.13,230.80 287.57,227.53 288.00,230.73 288.10,227.81 288.20,231.95 288.30,230.81 288.40,232.91 288.50,229.78 288.60,234.23 288.70,232.23 288.80,235.81 288.90,233.10 289.00,235.90 289.10,233.23 289.20,236.11 289.30,233.81 289.40,237.36 289.50,236.27 289.60,240.23 289.70,237.62 289.89,239.16 290.07,235.98 290.26,237.84 290.44,235.46 290.63,238.11 290.81,234.23 291.00,235.18 291.09,233.35 291.19,236.83 291.28,235.22 291.38,237.28 291.47,236.32 291.57,238.13 291.66,235.25 291.76,238.12 291.85,237.57 291.94,241.07 292.04,238.76 292.13,241.41 292.23,239.52 292.32,242.66 292.42,240.25 292.51,243.56 292.61,241.70 292.70,244.33 293.18,241.52 293.65,243.41 294.12,240.99 294.60,243.39 294.71,240.82 294.81,242.87 294.92,240.72 295.02,242.98 295.12,241.01 295.23,245.17 295.34,243.38 295.44,247.05 295.55,245.14 295.65,248.41 295.75,246.19 295.86,247.89 295.96,244.77 296.07,247.97 296.18,245.93 296.28,250.06 296.38,248.31 296.49,250.88 296.59,248.44 296.70,252.09 297.18,249.85 297.65,252.55 298.12,248.85 298.60,250.66 298.62,248.14 298.65,250.85 298.67,248.86 298.70,252.64 298.72,251.85 298.75,253.60 298.77,250.98 298.80,253.85 298.82,251.83 298.85,256.46 298.87,253.91 298.89,256.12 298.92,253.95 298.94,258.19 298.97,257.09 298.99,259.47 299.02,257.54 299.04,259.78 299.07,258.80 299.09,261.26 299.12,258.78 299.14,261.15 299.16,258.15 299.19,261.65 299.21,259.08 299.24,261.98 299.26,260.13 299.29,262.40 299.31,261.58 299.34,263.92 299.36,262.21 299.39,265.99 299.41,264.66 299.44,267.59 299.46,265.74 299.48,268.73 299.51,266.00 299.53,268.53 299.56,266.16 299.58,269.17 299.61,268.11 299.63,270.88 299.66,269.35 299.68,271.28 299.71,269.31 299.73,271.85 299.75,270.21 299.78,273.70 299.80,272.00 299.83,274.35 299.85,272.59 299.88,274.02 299.90,272.25 299.93,274.77 299.95,273.61 299.98,277.50 300.00,275.52 300.08,277.12 300.17,273.48 300.25,275.93 300.34,273.97 300.43,275.95 300.51,272.66 300.59,275.85 300.68,272.34 300.76,273.87 300.85,271.19 300.94,272.68 301.02,270.20 301.11,271.35 301.19,269.77 301.27,270.94 301.36,267.52 301.44,270.04 301.53,266.01 301.62,268.47 301.70,265.62 301.79,267.73 301.88,265.83 301.97,270.09 302.06,268.83 302.14,271.61 302.23,269.57 302.32,271.32 302.41,269.26 302.50,271.38 302.59,269.04 302.68,272.67 302.77,270.82 302.86,273.62 302.94,271.41 303.03,273.63 303.12,271.87 303.21,274.67 303.30,272.79 303.33,275.87 303.37,273.46 303.40,276.62 303.44,275.54 303.47,278.29 303.50,276.90 303.54,279.09 303.57,277.45 303.61,279.69 303.64,277.96 303.68,280.00 303.71,278.69 303.74,281.00 303.78,279.91 303.81,284.38 303.85,282.30 303.88,284.35 303.91,282.42 303.95,284.08 303.98,282.20 304.02,285.11 304.05,283.70 304.09,287.02 304.12,285.29 304.15,286.92 304.19,285.65 304.22,287.79 304.26,286.69 304.29,289.34 304.32,287.93 304.36,291.69 304.39,288.56 304.43,291.25 304.46,288.62 304.50,290.87 304.53,289.27 304.56,292.45 304.60,290.74 304.63,292.71 304.67,290.45 304.70,292.90 304.78,289.93 304.86,292.31 304.94,289.56 305.02,291.95 305.10,290.09 305.18,292.57 305.26,290.17 305.34,291.02 305.42,288.42 305.50,289.47 305.58,287.18 305.66,288.86 305.74,286.35 305.82,288.25 305.90,286.00 305.98,287.88 306.06,285.82 306.14,287.49 306.22,284.51 306.30,285.78 306.38,283.14 306.46,284.60 306.54,282.03 306.62,283.64 306.70,281.21 306.80,283.77 306.89,279.61 306.99,281.18 307.08,279.28 307.18,280.98 307.27,279.34 307.37,280.62 307.46,278.08 307.56,280.36 307.65,277.70 307.75,279.05 307.84,277.20 307.94,278.53 308.03,275.66 308.13,277.25 308.22,274.99 308.32,275.68 308.41,272.48 308.51,274.74 308.60,273.02 308.70,274.20 308.78,272.75 308.86,275.30 308.94,272.90 309.02,274.92 309.10,273.64 309.18,277.71 309.26,275.39 309.34,277.51 309.42,275.56 309.50,277.63 309.58,276.41 309.66,278.85 309.74,276.84 309.82,279.68 309.90,277.82 309.98,279.84 310.06,278.35 310.14,280.83 310.22,279.30 310.30,282.87 310.38,282.03 310.46,285.39 310.54,282.17 310.62,284.32 310.70,282.33 310.94,283.44 311.19,281.47 311.43,283.47 311.67,282.07 311.91,283.13 312.16,280.99 312.40,282.57 312.51,281.45 312.62,283.19 312.74,281.72 312.85,283.77 312.96,282.35 313.07,284.53 313.19,282.90 313.30,285.24 313.41,283.84 313.52,286.46 313.64,283.62 313.75,287.87 313.86,285.53 313.97,287.82 314.09,286.13 314.20,288.36 314.31,286.94 314.43,289.38 314.54,287.81 314.65,290.59 314.76,289.51 314.88,291.99 314.99,290.41 315.10,292.80 315.21,291.20 315.32,293.71 315.44,292.30 315.55,296.00 315.66,293.35 315.77,295.95 315.89,295.13 316.00,296.53 316.16,294.38 316.32,295.46 316.48,293.58 316.64,295.48 316.79,292.43 316.95,293.79 317.11,291.26 317.27,292.76 317.43,289.59 317.59,291.74 317.75,289.03 317.91,291.56 318.06,288.74 318.22,291.00 318.38,288.23 318.54,289.64 318.70,286.08 318.80,288.27 318.91,285.96 319.01,287.11 319.12,284.75 319.22,287.76 319.32,284.36 319.43,286.59 319.53,283.83 319.64,285.09 319.74,282.66 319.84,284.16 319.95,281.80 320.05,283.72 320.16,282.01 320.26,283.31 320.36,280.73 320.47,283.09 320.57,280.19 320.68,281.76 320.78,279.68 320.88,280.54 320.99,277.82 321.09,279.77 321.20,277.10 321.30,278.94 321.43,277.02 321.55,278.79 321.68,277.11 321.80,279.03 321.93,278.01 322.05,282.09 322.18,279.25 322.30,282.72 322.43,281.23 322.55,283.59 322.68,282.31 322.80,284.21 322.93,283.06 323.05,285.11 323.18,283.06 323.30,285.92 323.73,282.98 324.15,285.34 324.57,282.43 325.00,284.32 325.13,282.79 325.26,286.01 325.39,284.07 325.52,286.30 325.65,284.89 325.78,288.73 325.92,287.60 326.05,289.41 326.18,288.23 326.31,290.40 326.44,288.21 326.57,290.65 326.70,288.64 326.83,290.31 326.96,287.89 327.08,289.10 327.21,286.07 327.34,289.42 327.47,287.28 327.59,288.54 327.72,286.10 327.85,287.83 327.98,285.54 328.11,286.48 328.23,284.03 328.36,284.70 328.49,282.40 328.62,283.61 328.74,280.13 328.87,282.97 329.00,280.19 329.30,282.48 329.60,281.02 329.90,283.86 330.20,283.41 330.50,285.97 330.80,283.65 331.10,285.01 331.40,283.35 331.70,285.07 332.00,284.24 332.15,287.13 332.30,285.85 332.45,288.81 332.60,287.83 332.75,289.62 332.90,287.03 333.05,290.24 333.20,287.86 333.35,291.33 333.50,290.07 333.65,291.91 333.80,289.93 333.95,291.28 334.10,289.86 334.25,293.52 334.40,289.59 334.55,293.42 334.70,292.38 334.85,295.26 335.00,293.72 335.15,295.86 335.30,294.39 335.43,296.17 335.56,295.20 335.69,297.30 335.82,296.44 335.95,298.52 336.08,296.90 336.22,299.34 336.35,296.92 336.48,299.16 336.61,298.53 336.74,300.94 336.87,299.95 337.00,301.49 337.15,299.78 337.31,302.08 337.46,298.63 337.62,300.21 337.77,298.13 337.93,299.00 338.08,297.40 338.24,299.34 338.39,296.56 338.55,297.25 338.70,294.86 339.13,297.66 339.57,296.33 340.00,298.29 340.09,294.63 340.18,296.43 340.27,294.79 340.36,296.77 340.45,294.51 340.55,295.74 340.64,293.33 340.73,294.11 340.82,291.70 340.91,293.28 341.00,292.02 341.09,293.23 341.18,289.48 341.27,291.28 341.36,287.69 341.45,289.51 341.55,287.04 341.64,288.41 341.73,286.02 341.82,287.87 341.91,285.64 342.00,287.17 342.09,285.49 342.17,288.12 342.26,287.91 342.35,290.41 342.44,288.35 342.52,290.73 342.61,289.05 342.70,291.66 342.78,290.14 342.87,292.92 342.96,291.34 343.05,293.93 343.13,292.68 343.22,294.45 343.31,292.94 343.39,295.24 343.48,292.81 343.57,295.28 343.65,294.21 343.74,296.78 343.83,295.61 343.92,297.39 344.00,295.78 344.09,298.39 344.18,297.09 344.26,299.28 344.35,297.94 344.44,300.05 344.53,299.50 344.61,302.06 344.70,299.76 344.85,300.70 345.01,298.74 345.16,299.95 345.32,298.01 345.47,298.92 345.62,296.01 345.78,297.70 345.93,295.30 346.08,298.57 346.24,295.55 346.39,298.07 346.55,294.40 346.70,295.59 347.13,293.29 347.57,295.18 348.00,293.55 348.43,296.02 348.87,295.03 349.30,296.42 349.49,294.32 349.69,296.52 349.88,293.75 350.07,297.29 350.26,294.24 350.46,297.38 350.65,295.76 350.84,298.21 351.04,296.95 351.23,299.74 351.42,297.89 351.61,300.47 351.81,298.84 352.00,301.47 352.14,300.34 352.29,302.18 352.43,300.29 352.57,302.47 352.72,301.01 352.86,302.67 353.01,301.54 353.15,304.62 353.29,303.93 353.44,305.83 353.58,304.62 353.73,307.20 353.87,305.23 354.01,306.56 354.16,305.29 354.30,308.79 354.54,306.47 354.78,307.82 355.02,305.22 355.26,306.24 355.50,304.32 355.74,306.31 355.98,303.97 356.22,306.17 356.46,303.07 356.70,304.58 356.96,302.05 357.22,303.40 357.48,299.68 357.74,302.40 358.00,300.98 358.26,303.33 358.52,300.38 358.78,301.67 359.04,299.65 359.30,301.11 359.38,300.09 359.46,301.44 359.54,299.69 359.62,302.18 359.70,300.51 359.78,303.23 359.86,302.21 359.94,304.22 360.02,302.90 360.10,304.90 360.18,303.06 360.26,305.65 360.34,304.50 360.42,307.20 360.50,306.00 360.58,308.01 360.66,306.29 360.74,309.05 360.82,307.11 360.90,309.90 360.98,309.15 361.06,311.55 361.14,310.45 361.22,312.16 361.30,310.51 361.73,311.77 362.15,310.36 362.57,312.29 363.00,310.69 363.20,312.50 363.40,310.27 363.60,311.90 363.80,309.66 364.00,310.63 364.20,308.90 364.40,310.14 364.60,308.40 364.80,310.04 365.00,308.61 365.06,309.70 365.13,307.02 365.19,307.47 365.26,305.44 365.32,307.06 365.38,304.43 365.45,306.39 365.51,303.51 365.57,304.69 365.64,303.43 365.70,304.25 365.77,302.53 365.83,303.87 365.89,300.83 365.96,302.21 366.02,300.00 366.09,301.39 366.15,299.72 366.21,300.76 366.28,299.12 366.34,299.72 366.41,296.69 366.47,297.77 366.53,296.18 366.60,297.50 366.66,295.34 366.73,297.14 366.79,293.48 366.85,295.78 366.92,293.11 366.98,295.30 367.04,293.22 367.11,295.04 367.17,291.01 367.24,292.80 367.30,290.40 367.50,292.43 367.70,289.98 367.90,291.67 368.10,288.56 368.30,290.61 368.70,288.98 369.10,290.91 369.50,289.59 369.90,291.98 370.30,289.84 370.59,291.08 370.87,288.82 371.16,291.25 371.44,289.42 371.73,289.90 372.01,286.19 372.30,289.75 372.50,287.78 372.70,290.53 372.90,289.13 373.10,290.28 373.30,288.99 373.50,291.56 373.70,290.15 373.90,292.65 374.10,291.56 374.30,294.92 374.36,291.27 374.41,292.77 374.47,290.23 374.53,290.98 374.58,288.96 374.64,290.48 374.70,287.32 374.75,289.37 374.81,287.08 374.87,289.38 374.92,285.54 374.98,286.87 375.04,284.72 375.09,286.00 375.15,284.41 375.21,286.95 375.26,284.34 375.32,286.22 375.38,282.83 375.43,284.62 375.49,281.04 375.55,282.77 375.60,279.06 375.66,282.55 375.72,280.14 375.77,281.97 375.83,278.89 375.89,280.94 375.94,277.40 376.00,280.85 376.43,278.28 376.86,280.62 377.29,278.83 377.71,280.83 378.14,277.62 378.57,279.11 379.00,277.17 379.34,280.47 379.68,279.99 380.01,281.56 380.35,279.52 380.69,281.52 381.02,278.85 381.36,281.40 381.70,280.85 381.82,283.60 381.94,282.84 382.05,284.90 382.17,283.25 382.29,285.14 382.41,282.97 382.52,286.45 382.64,285.42 382.76,288.32 382.88,284.83 382.99,287.01 383.11,285.80 383.23,289.34 383.35,287.67 383.46,289.51 383.58,287.78 383.70,290.32 383.81,289.82 383.91,291.97 384.02,290.29 384.13,292.76 384.23,291.26 384.34,294.07 384.45,291.86 384.55,293.30 384.66,291.69 384.76,294.01 384.87,293.35 384.98,294.88 385.08,293.23 385.19,295.15 385.30,293.94 385.40,297.28 385.51,295.23 385.62,297.82 385.72,296.63 385.83,299.25 385.94,297.84 386.04,300.16 386.15,298.81 386.25,301.41 386.36,298.36 386.47,301.90 386.57,300.41 386.68,302.88 386.79,301.80 386.89,304.12 387.00,302.34 387.13,303.08 387.27,300.27 387.40,302.33 387.53,299.85 387.67,301.69 387.80,299.38 387.93,301.19 388.07,299.02 388.20,300.06 388.33,297.85 388.47,299.35 388.60,297.01 388.73,298.14 388.87,295.44 389.00,296.73 389.25,294.89 389.49,296.26 389.74,294.73 389.98,296.55 390.23,294.73 390.47,296.13 390.72,293.75 390.96,294.85 391.21,292.05 391.45,293.53 391.70,291.95 392.13,293.15 392.57,290.85 393.00,293.04 393.43,291.13 393.87,292.58 394.30,291.05 394.55,292.71 394.79,290.25 395.04,292.06 395.28,290.99 395.53,292.44 395.77,290.28 396.02,292.12 396.26,288.75 396.51,291.01 396.75,288.45 397.00,289.59 397.27,287.72 397.55,289.98 397.82,287.41 398.10,291.60 398.38,288.71 398.65,291.00 398.93,289.67 399.20,291.95 399.48,291.02 399.75,293.07 400.03,291.54 400.30,293.50 400.45,290.56 400.60,294.77 400.74,291.91 400.89,292.78 401.04,289.86 401.19,290.82 401.34,288.93 401.48,291.04 401.63,288.39 401.78,288.96 401.93,286.66 402.08,288.34 402.22,286.33 402.37,287.75 402.52,284.51 402.67,286.80 402.82,284.59 402.96,286.91 403.11,284.74 403.26,286.61 403.41,283.61 403.56,285.12 403.70,283.09 403.85,284.11 404.00,281.96 404.21,283.82 404.42,281.81 404.63,284.39 404.84,282.29 405.05,285.06 405.25,282.99 405.46,286.17 405.67,282.67 405.88,286.55 406.09,284.57 406.30,288.13 406.67,285.32 407.04,288.05 407.41,285.68 407.78,288.26 408.15,287.58 408.52,290.03 408.89,288.97 409.26,291.07 409.63,288.81 410.00,291.07 410.13,288.22 410.26,289.79 410.39,287.84 410.52,289.28 410.65,286.68 410.78,288.08 410.91,286.23 411.04,288.55 411.17,285.30 411.30,286.32 411.43,284.08 411.57,285.10 411.70,283.57 411.83,284.48 411.96,281.95 412.09,283.52 412.22,281.42 412.35,283.28 412.48,281.13 412.61,282.53 412.74,279.90 412.87,282.01 413.00,278.33 413.39,280.31 413.77,278.94 414.16,280.99 414.54,279.10 414.93,282.01 415.31,279.49 415.70,282.07 416.13,279.60 416.57,282.00 417.00,279.36 417.43,281.48 417.87,279.09 418.30,281.20 418.54,280.15 418.79,282.08 419.03,280.81 419.27,283.41 419.51,280.01 419.76,284.09 420.00,282.04 420.24,285.30 420.49,282.62 420.73,284.78 420.97,283.46 421.21,285.82 421.46,284.04 421.70,288.68 421.87,286.52 422.05,288.10 422.22,286.27 422.39,287.77 422.57,287.38 422.74,289.54 422.91,287.26 423.09,289.47 423.26,287.57 423.43,290.89 423.61,289.97 423.78,292.91 423.95,290.78 424.13,294.15 424.30,290.84 424.47,292.42 424.64,291.66 424.81,293.95 424.98,292.79 425.15,293.98 425.32,292.19 425.48,295.61 425.65,294.46 425.82,296.86 425.99,295.62 426.16,297.58 426.33,295.29 426.50,297.21 426.90,295.85 427.30,298.32 427.70,297.43 428.10,299.56 428.50,297.35 428.86,298.01 429.22,295.57 429.58,297.09 429.94,294.92 430.30,297.18 430.50,295.34 430.70,296.65 430.90,293.72 431.10,295.19 431.30,293.31 431.50,295.06 432.00,294.13 432.50,296.35 432.80,294.60 433.10,297.15 433.40,293.51 433.70,294.65 433.78,290.55 433.85,292.35 433.93,290.64 434.01,291.29 434.08,289.83 434.16,291.61 434.24,289.68 434.31,290.38 434.39,288.00 434.46,289.18 434.54,286.92 434.62,288.55 434.69,285.68 434.77,287.70 434.85,284.78 434.92,287.23 435.00,284.53 435.30,286.85 435.60,283.92 435.90,285.09 436.20,283.27 436.50,284.98 436.80,282.84 437.10,284.15 437.40,281.11 437.70,282.86 438.00,280.20 438.30,282.23 438.60,281.30 438.90,283.49 439.20,282.68 439.50,284.90 439.80,282.47 440.10,284.72 440.40,284.24 440.70,288.08 441.00,284.59 441.34,286.64 441.68,284.34 442.01,286.79 442.35,285.37 442.69,287.83 443.02,286.29 443.36,289.61 443.70,286.86 443.78,287.10 443.86,284.63 443.94,285.81 444.02,283.83 444.11,286.21 444.19,284.60 444.27,285.38 444.35,282.59 444.43,283.39 444.51,281.58 444.59,283.52 444.68,281.32 444.76,284.03 444.84,280.77 444.92,282.32 445.00,279.92 445.08,282.32 445.16,278.84 445.24,279.27 445.32,277.05 445.41,278.15 445.49,276.47 445.57,278.75 445.65,275.92 445.73,277.58 445.81,274.89 445.89,277.01 445.98,274.58 446.06,275.49 446.14,271.91 446.22,272.99 446.30,270.50 446.64,272.89 446.98,270.32 447.31,272.37 447.65,270.59 447.99,272.90 448.32,270.95 448.66,271.86 449.00,269.81 449.07,270.76 449.15,267.15 449.22,269.29 449.30,267.69 449.37,268.55 449.44,265.56 449.52,267.04 449.59,263.59 449.67,265.89 449.74,264.49 449.81,266.10 449.89,264.28 449.96,265.69 450.04,263.02 450.11,265.53 450.19,262.85 450.26,265.68 450.33,262.77 450.41,264.18 450.48,261.66 450.56,262.96 450.63,259.88 450.70,262.41 450.78,258.86 450.85,260.86 450.93,256.41 451.00,258.96 451.27,257.64 451.54,259.66 451.81,257.80 452.08,259.85 452.35,258.24 452.62,260.90 452.89,258.70 453.16,261.79 453.43,261.07 453.70,263.09 454.03,260.81 454.36,262.57 454.69,261.17 455.02,264.99 455.35,262.41 455.68,265.59 456.01,261.22 456.34,264.03 456.67,263.09 457.00,265.72 457.12,263.66 457.24,265.31 457.36,263.49 457.48,265.04 457.60,262.40 457.72,263.65 457.84,261.15 457.96,262.39 458.08,258.59 458.20,261.50 458.32,257.64 458.44,259.50 458.56,256.99 458.68,258.76 458.80,255.63 458.92,259.61 459.04,256.67 459.16,258.07 459.28,255.94 459.40,257.41 459.52,254.56 459.64,256.59 459.76,252.63 459.88,255.96 460.00,252.79 460.38,254.10 460.77,251.06 461.15,254.00 461.53,252.67 461.92,254.15 462.30,251.43 462.34,252.38 462.37,248.68 462.41,251.40 462.45,247.90 462.48,249.82 462.52,246.13 462.56,249.56 462.59,246.96 462.63,248.49 462.67,245.29 462.71,246.84 462.74,244.33 462.78,247.07 462.82,244.47 462.85,247.83 462.89,245.34 462.93,246.01 462.96,242.16 463.00,244.70 463.03,243.57 463.06,246.01 463.10,244.30 463.13,247.10 463.16,245.24 463.19,247.50 463.23,244.77 463.26,248.16 463.29,246.75 463.32,250.54 463.36,248.15 463.39,250.26 463.42,247.70 463.45,250.43 463.49,249.54 463.52,251.99 463.55,250.91 463.58,253.97 463.62,251.86 463.65,254.34 463.68,251.87 463.72,254.33 463.75,251.74 463.78,256.24 463.81,253.54 463.85,257.98 463.88,255.87 463.91,258.24 463.94,255.53 463.98,257.24 464.01,256.17 464.04,258.59 464.07,256.39 464.11,259.94 464.14,258.47 464.17,260.62 464.20,259.59 464.24,261.91 464.27,258.99 464.30,262.38 464.33,260.12 464.36,261.69 464.39,258.49 464.42,261.34 464.45,259.65 464.48,261.26 464.50,257.58 464.53,259.10 464.56,256.05 464.59,258.51 464.62,255.98 464.65,258.76 464.68,256.25 464.71,257.35 464.74,253.81 464.77,256.00 464.80,251.74 464.82,254.22 464.85,250.43 464.88,253.00 464.91,249.42 464.94,252.34 464.97,249.12 465.00,251.48 465.03,248.67 465.06,250.58 465.09,247.14 465.12,250.58 465.15,246.70 465.18,248.76 465.20,244.60 465.23,247.67 465.26,244.84 465.29,247.12 465.32,244.83 465.35,246.25 465.38,242.94 465.41,246.72 465.44,242.67 465.47,246.43 465.50,243.79 465.52,245.93 465.55,241.65 465.58,242.66 465.61,239.65 465.64,242.03 465.67,240.08 465.70,241.63 465.74,238.18 465.79,239.82 465.83,236.63 465.87,238.21 465.91,236.00 465.96,238.63 466.00,235.21 466.04,238.18 466.09,233.90 466.13,236.69 466.17,233.12 466.21,237.67 466.26,233.52 466.30,236.29 466.57,233.54 466.84,236.41 467.11,232.87 467.38,236.68 467.65,232.77 467.92,236.24 468.19,233.16 468.46,237.33 468.73,235.66 469.00,239.25 469.07,236.30 469.15,240.01 469.22,235.94 469.30,237.29 469.37,233.89 469.44,235.92 469.52,233.41 469.59,234.14 469.67,231.48 469.74,234.24 469.81,232.26 469.89,234.79 469.96,232.18 470.04,234.02 470.11,230.26 470.19,233.77 470.26,230.66 470.33,231.94 470.41,229.53 470.48,230.98 470.56,227.39 470.63,229.24 470.70,227.17 470.78,229.52 470.85,226.88 470.93,228.36 471.00,225.06 471.03,226.98 471.07,223.51 471.10,226.03 471.14,223.19 471.17,224.71 471.20,221.69 471.24,222.81 471.27,221.02 471.31,223.23 471.34,220.63 471.37,223.34 471.41,219.62 471.44,222.60 471.47,218.36 471.51,221.27 471.54,216.78 471.58,219.12 471.61,216.50 471.64,218.61 471.68,214.38 471.71,217.30 471.75,214.74 471.78,217.87 471.81,214.79 471.85,216.75 471.88,213.40 471.92,215.58 471.95,210.89 471.98,212.94 472.02,211.10 472.05,213.60 472.08,210.04 472.12,211.96 472.15,208.35 472.19,210.10 472.22,207.42 472.25,210.32 472.29,207.95 472.32,210.34 472.36,205.78 472.39,208.68 472.42,206.41 472.46,209.53 472.49,205.62 472.53,207.75 472.56,204.12 472.59,206.39 472.63,204.16 472.66,206.57 472.69,201.72 472.73,204.89 472.76,202.84 472.80,204.88 472.83,201.83 472.86,202.40 472.90,198.86 472.93,201.26 472.97,197.85 473.00,200.54 473.08,197.79 473.17,201.79 473.25,198.32 473.33,202.03 473.42,199.95 473.50,204.01 473.58,202.10 473.67,205.08 473.75,203.10 473.83,204.91 473.92,203.32 474.00,206.41 474.08,204.23 474.17,207.81 474.25,205.89 474.33,209.42 474.42,206.29 474.50,209.64 474.58,207.47 474.67,209.74 474.75,206.68 474.83,209.80 474.92,208.94 475.00,212.49 475.08,209.86 475.16,212.18 475.24,209.75 475.32,212.26 475.41,210.83 475.49,213.40 475.57,211.37 475.65,215.20 475.73,213.55 475.81,216.20 475.89,213.48 475.98,215.48 476.06,214.39 476.14,218.79 476.22,215.74 476.30,218.09 476.45,214.52 476.61,217.58 476.76,216.42 476.92,217.66 477.07,214.25 477.22,217.16 477.38,213.50 477.53,215.70 477.68,212.62 477.84,213.81 477.99,209.92 478.15,213.29 478.30,209.30 478.38,214.26 478.45,213.10 478.53,216.14 478.61,212.86 478.69,215.85 478.76,213.21 478.84,217.32 478.92,214.83 478.99,217.97 479.07,214.91 479.15,217.52 479.23,215.59 479.30,219.01 479.38,217.14 479.46,219.97 479.53,217.17 479.61,219.50 479.69,218.55 479.77,221.94 479.84,218.23 479.92,221.75 480.00,220.12 480.07,222.92 480.15,220.60 480.23,223.58 480.31,220.82 480.38,223.49 480.46,221.32 480.54,225.02 480.61,223.22 480.69,226.01 480.77,224.40 480.85,228.20 480.92,225.58 481.00,228.17 481.06,224.30 481.11,227.95 481.17,225.28 481.23,227.32 481.29,224.12 481.34,226.33 481.40,223.44 481.46,225.40 481.51,222.10 481.57,225.63 481.63,220.13 481.69,223.13 481.74,219.78 481.80,222.31 481.86,219.63 481.91,222.58 481.97,219.28 482.03,220.79 482.09,217.98 482.14,220.85 482.20,217.66 482.26,219.29 482.31,215.96 482.37,217.95 482.43,215.72 482.49,218.26 482.54,214.60 482.60,216.27 482.66,211.80 482.71,213.99 482.77,210.94 482.83,214.13 482.89,211.40 482.94,213.97 483.00,211.36 483.10,215.21 483.19,212.28 483.29,214.55 483.38,210.85 483.48,213.69 483.57,211.32 483.67,214.53 483.76,212.30 483.86,216.11 483.95,213.72 484.05,216.32 484.14,213.84 484.24,219.05 484.33,217.81 484.43,219.73 484.52,217.65 484.62,219.71 484.71,218.04 484.81,219.64 484.90,219.12 485.00,223.02 485.07,219.82 485.13,222.55 485.20,220.52 485.27,223.80 485.34,221.92 485.40,225.69 485.47,223.19 485.54,226.30 485.61,223.23 485.68,228.06 485.74,225.10 485.81,228.16 485.88,225.17 485.94,227.34 486.01,224.99 486.08,228.40 486.15,226.00 486.21,229.48 486.28,227.43 486.35,231.16 486.42,228.76 486.49,231.26 486.55,229.01 486.62,233.59 486.69,232.56 486.75,235.00 486.82,232.57 486.89,235.76 486.96,232.36 487.02,234.86 487.09,232.67 487.16,237.62 487.23,234.61 487.30,236.72 487.36,234.39 487.43,238.09 487.50,236.92 487.56,239.99 487.63,237.86 487.70,240.91 487.80,235.59 487.90,237.70 488.00,236.29 488.10,238.50 488.20,236.12 488.30,237.94 488.40,235.61 488.50,235.97 488.60,231.98 488.70,234.93 488.80,232.03 488.90,233.51 489.00,231.59 489.10,235.26 489.20,230.96 489.30,232.83 489.40,229.00 489.50,231.31 489.60,227.24 489.70,230.35 489.80,227.56 489.90,229.62 490.00,225.79 490.10,229.06 490.20,225.56 490.30,228.55 490.39,224.79 490.48,226.95 490.58,224.76 490.67,226.41 490.76,223.20 490.85,226.09 490.94,222.62 491.04,225.28 491.13,220.89 491.22,223.48 491.31,219.89 491.40,222.60 491.50,218.96 491.59,221.64 491.68,219.77 491.77,221.31 491.86,217.70 491.96,219.63 492.05,216.47 492.14,218.41 492.23,215.43 492.32,216.93 492.42,213.57 492.51,217.63 492.60,215.87 492.67,218.64 492.74,217.44 492.80,220.18 492.87,216.96 492.94,220.44 493.01,216.29 493.08,219.89 493.14,218.19 493.21,221.59 493.28,217.81 493.35,220.60 493.42,219.07 493.48,222.36 493.55,219.59 493.62,222.32 493.69,221.74 493.76,225.86 493.82,223.31 493.89,225.48 493.96,222.95 494.03,225.59 494.10,222.98 494.16,226.81 494.23,225.98 494.30,228.60 494.53,225.15 494.77,225.62 495.00,222.65 495.23,225.71 495.47,223.29 495.70,226.00 495.79,224.92 495.88,227.45 495.97,225.25 496.06,228.00 496.15,225.40 496.24,228.30 496.33,227.02 496.42,231.33 496.51,228.57 496.59,230.17 496.68,227.33 496.77,231.55 496.86,229.37 496.95,233.09 497.04,229.33 497.13,232.60 497.22,230.00 497.31,234.54 497.40,232.43 497.49,235.71 497.58,231.83 497.67,234.53 497.76,229.90 497.84,231.88 497.93,228.57 498.02,230.08 498.11,228.30 498.20,231.51 498.29,227.44 498.38,230.17 498.47,226.83 498.56,227.85 498.64,223.96 498.73,227.41 498.82,224.38 498.91,227.07 499.00,223.18 499.11,226.78 499.22,225.11 499.33,229.59 499.44,225.64 499.56,228.28 499.67,226.41 499.78,230.48 499.89,228.00 500.00,231.28 500.11,228.83 500.22,231.55 500.33,230.16 500.44,233.14 500.56,230.47 500.67,232.52 500.78,229.66 500.89,232.96 501.00,230.01 501.10,232.56 501.19,230.03 501.29,232.80 501.39,230.18 501.48,233.12 501.58,228.81 501.68,230.77 501.77,227.61 501.87,231.71 501.96,229.26 502.06,229.58 502.16,225.67 502.25,229.06 502.35,226.53 502.45,229.19 502.54,225.11 502.64,225.38 502.74,223.45 502.83,227.26 502.93,224.01 503.02,225.91 503.12,221.69 503.22,223.33 503.31,220.31 503.41,223.75 503.51,220.98 503.60,224.33 503.70,219.90 503.79,221.63 503.89,219.89 503.98,222.88 504.08,219.59 504.17,224.07 504.27,221.62 504.36,225.59 504.46,222.76 504.55,224.80 504.64,223.97 504.74,228.33 504.83,225.69 504.93,228.57 505.02,226.14 505.12,229.53 505.21,226.07 505.31,228.73 505.40,227.56 505.72,230.48 506.04,227.02 506.37,229.20 506.69,225.73 507.01,228.02 507.33,225.40 507.66,228.39 507.98,224.41 508.30,226.58 508.35,223.67 508.40,225.94 508.44,222.93 508.49,225.73 508.54,222.91 508.59,224.92 508.64,220.58 508.69,224.30 508.73,221.03 508.78,223.65 508.83,218.61 508.88,221.60 508.93,219.20 508.98,221.68 509.02,219.29 509.07,221.21 509.12,217.12 509.17,219.53 509.22,215.79 509.26,217.35 509.31,213.89 509.36,215.58 509.41,213.25 509.46,215.07 509.51,212.03 509.55,215.20 509.60,211.86 509.65,214.28 509.70,209.95 509.75,213.67 509.79,208.67 509.84,212.91 509.89,210.83 509.94,213.10 509.99,210.42 510.04,212.55 510.08,208.96 510.13,211.67 510.18,207.82 510.23,210.75 510.28,206.49 510.32,208.98 510.37,204.75 510.42,207.85 510.47,206.04 510.52,207.18 510.57,204.16 510.61,204.71 510.66,202.45 510.71,206.41 510.76,202.34 510.81,205.00 510.86,201.90 510.90,203.91 510.95,200.28 511.00,202.22 511.13,199.13 511.26,202.56 511.39,201.12 511.51,204.07 511.64,203.27 511.77,206.10 511.90,203.53 512.03,206.52 512.16,203.69 512.29,206.86 512.41,204.99 512.54,207.86 512.67,205.23 512.80,207.91 512.93,206.82 513.06,210.39 513.19,207.39 513.31,210.24 513.44,206.70 513.57,210.24 513.70,209.07 513.77,212.94 513.83,209.87 513.90,214.07 513.97,211.41 514.03,214.06 514.10,212.76 514.17,215.81 514.23,213.44 514.30,216.47 514.37,213.89 514.43,216.87 514.50,214.10 514.57,216.18 514.63,214.10 514.70,216.74 514.77,214.91 514.83,219.07 514.90,217.19 514.97,219.53 515.03,217.08 515.10,220.01 515.17,218.68 515.23,222.74 515.30,220.95 515.37,223.59 515.43,221.12 515.50,222.85 515.57,220.85 515.63,222.99 515.70,220.70 515.91,223.05 516.12,219.81 516.34,222.33 516.55,218.73 516.76,220.75 516.98,218.83 517.19,223.10 517.40,219.12 517.47,221.78 517.54,218.45 517.60,222.56 517.67,221.01 517.74,223.74 517.81,220.63 517.87,223.90 517.94,222.18 518.01,224.86 518.08,222.83 518.14,225.34 518.21,223.26 518.28,226.06 518.35,224.33 518.41,228.46 518.48,226.85 518.55,229.86 518.62,227.32 518.69,228.59 518.75,225.92 518.82,230.36 518.89,228.06 518.96,231.77 519.02,231.02 519.09,233.53 519.16,229.97 519.23,234.08 519.29,232.02 519.36,234.86 519.43,231.64 519.50,234.94 519.56,233.16 519.63,236.52 519.70,234.13 519.84,236.87 519.98,232.05 520.12,234.85 520.27,230.98 520.41,234.56 520.55,231.34 520.69,234.07 520.83,230.78 520.98,231.80 521.12,229.05 521.26,231.79 521.40,229.27 521.45,231.35 521.51,229.93 521.56,233.57 521.62,230.26 521.67,235.23 521.73,231.98 521.78,235.48 521.84,232.69 521.89,236.48 521.95,233.95 522.00,236.53 522.05,233.58 522.11,237.45 522.16,234.81 522.22,237.45 522.27,235.71 522.33,239.23 522.38,237.56 522.44,240.81 522.49,239.13 522.55,242.00 522.60,239.26 522.69,242.83 522.77,240.88 522.86,243.57 522.94,241.68 523.03,243.69 523.11,241.20 523.20,244.18 523.33,241.83 523.47,245.34 523.60,243.42 523.73,246.24 523.87,244.01 524.00,247.07 524.13,243.70 524.27,246.88 524.40,242.45 524.53,244.11 524.67,242.27 524.80,245.32 524.96,242.99 525.12,247.43 525.28,243.94 525.44,246.26 525.60,243.33 525.67,246.01 525.74,243.53 525.81,247.16 525.88,242.23 525.95,244.98 526.02,241.37 526.09,242.42 526.16,239.71 526.23,243.30 526.30,240.43 526.37,242.31 526.44,239.39 526.51,241.08 526.58,236.30 526.64,238.47 526.71,237.02 526.78,239.52 526.85,236.42 526.92,238.08 526.99,235.29 527.06,237.62 527.13,235.63 527.20,237.91 527.27,233.97 527.33,235.08 527.40,232.12 527.47,234.71 527.54,230.20 527.61,232.54 527.68,229.88 527.75,233.40 527.82,230.83 527.89,231.16 527.96,227.50 528.02,230.06 528.09,228.23 528.16,231.31 528.23,227.16 528.30,228.43 528.39,226.47 528.48,229.18 528.58,225.90 528.67,227.19 528.76,223.40 528.85,225.59 528.94,222.67 529.04,225.50 529.13,222.44 529.22,225.76 529.31,222.04 529.40,223.02 529.50,219.55 529.59,223.15 529.68,219.95 529.77,221.99 529.86,219.20 529.96,220.27 530.05,217.76 530.14,219.16 530.23,216.78 530.32,219.15 530.42,216.38 530.51,216.89 530.60,213.82 530.70,217.14 530.80,213.51 530.90,217.43 531.00,215.03 531.10,216.84 531.20,213.87 531.30,216.00 531.40,212.20 531.50,214.38 531.60,211.15 531.70,211.96 531.80,208.35 531.90,211.42 532.00,208.72 532.10,211.64 532.20,208.23 532.28,211.16 532.35,209.05 532.43,211.80 532.51,209.31 532.59,213.62 532.66,211.92 532.74,214.01 532.82,210.32 532.90,214.48 532.97,213.63 533.05,217.67 533.13,215.17 533.20,217.82 533.28,215.42 533.36,218.78 533.44,216.96 533.51,220.08 533.59,217.41 533.67,220.45 533.75,217.24 533.82,219.84 533.90,217.30 533.96,218.99 534.03,217.06 534.09,219.24 534.15,216.26 534.21,217.57 534.28,214.31 534.34,216.94 534.40,214.51 534.47,217.60 534.53,215.33 534.59,216.93 534.66,213.38 534.72,214.74 534.78,212.06 534.84,213.28 534.91,210.78 534.97,213.67 535.03,211.64 535.10,214.25 535.16,211.34 535.22,212.88 535.29,208.82 535.35,212.10 535.41,208.21 535.47,209.10 535.54,205.69 535.60,208.07 535.66,205.24 535.73,207.68 535.79,204.15 535.85,206.58 535.92,204.64 535.98,206.84 536.05,203.98 536.11,206.38 536.17,202.77 536.24,204.93 536.30,202.39 536.36,204.87 536.43,201.43 536.49,203.66 536.55,200.27 536.62,203.42 536.68,200.13 536.75,201.92 536.81,199.20 536.87,202.33 536.94,198.27 537.00,199.38 537.40,196.07 537.80,198.44 538.20,196.30 538.60,199.15 538.67,195.63 538.74,199.62 538.81,198.19 538.88,201.49 538.95,199.28 539.02,201.54 539.09,198.97 539.16,202.68 539.23,199.11 539.30,204.20 539.37,202.16 539.44,206.00 539.51,204.08 539.58,207.08 539.65,204.33 539.72,208.29 539.79,205.75 539.86,207.97 539.93,204.58 540.00,207.90 540.27,205.06 540.55,209.42 540.83,208.50 541.10,212.18 541.38,208.97 541.65,210.99 541.93,209.43 542.20,212.20 542.45,210.04 542.70,210.85 542.95,207.88 543.20,210.23 543.45,208.31 543.70,210.98 543.89,207.05 544.08,209.98 544.27,207.00 544.46,211.59 544.65,209.54 544.84,213.32 545.03,211.19 545.22,214.48 545.41,212.01 545.60,214.86 545.78,211.09 545.97,213.09 546.15,210.62 546.33,214.18 546.52,210.49 546.70,212.36 546.76,209.03 546.82,213.08 546.88,211.56 546.95,215.14 547.01,211.83 547.07,216.00 547.13,213.11 547.19,215.52 547.25,212.46 547.32,215.49 547.38,212.31 547.44,216.24 547.50,214.78 547.56,217.70 547.62,216.07 547.68,219.46 547.75,216.60 547.81,219.37 547.87,217.94 547.93,220.14 547.99,218.48 548.05,222.48 548.12,219.32 548.18,223.68 548.24,221.56 548.30,224.46 548.35,220.53 548.39,223.38 548.44,219.54 548.48,222.04 548.53,218.24 548.57,220.66 548.62,217.11 548.66,219.49 548.71,215.56 548.75,218.00 548.80,214.51 548.84,216.75 548.89,214.58 548.93,217.10 548.98,213.85 549.02,216.72 549.07,213.36 549.11,215.75 549.16,212.23 549.20,215.18 549.25,212.06 549.29,214.43 549.34,210.08 549.38,212.60 549.43,209.22 549.47,212.54 549.52,209.02 549.56,209.91 549.61,206.30 549.65,208.60 549.70,204.97 549.90,207.63 550.10,204.38 550.30,206.64 550.50,204.12 550.70,207.13 550.90,203.73 551.10,206.66 551.14,204.21 551.18,205.51 551.23,202.89 551.27,204.05 551.31,200.85 551.35,203.00 551.40,200.07 551.44,202.43 551.48,200.07 551.52,201.89 551.57,199.72 551.61,201.45 551.65,199.50 551.69,201.23 551.73,196.72 551.78,199.12 551.82,196.12 551.86,198.82 551.90,195.84 551.95,198.68 551.99,194.27 552.03,195.44 552.07,193.42 552.12,196.10 552.16,192.35 552.20,193.50 552.30,191.07 552.40,194.57 552.50,192.39 552.60,195.30 552.70,193.33 552.80,197.09 552.90,193.88 553.00,196.77 553.15,193.14 553.30,196.84 553.45,193.61 553.60,197.11 553.69,194.54 553.78,197.77 553.87,194.66 553.96,198.67 554.05,195.54 554.14,198.27 554.23,195.00 554.32,198.83 554.41,196.66 554.50,199.84 554.87,199.43 555.23,202.38 555.60,199.03 555.73,201.51 555.86,197.77 555.99,199.60 556.11,196.39 556.24,200.07 556.37,197.25 556.50,198.80 556.93,195.99 557.37,198.28 557.80,195.73 557.85,199.20 557.89,196.11 557.94,198.34 557.98,196.02 558.03,197.15 558.07,194.45 558.12,196.92 558.17,194.43 558.21,196.77 558.26,193.19 558.30,195.40 558.35,191.40 558.40,193.57 558.44,189.10 558.49,191.48 558.53,188.41 558.58,190.34 558.62,186.15 558.67,189.10 558.72,186.37 558.76,189.01 558.81,187.43 558.85,189.03 558.90,185.36 558.93,186.94 558.96,184.31 558.99,184.56 559.02,182.64 559.05,186.13 559.08,182.62 559.11,185.45 559.14,182.41 559.17,184.09 559.20,180.75 559.23,182.09 559.26,178.54 559.29,181.79 559.32,179.03 559.35,181.82 559.38,178.46 559.41,180.81 559.44,177.65 559.46,179.66 559.49,177.40 559.52,178.26 559.55,174.93 559.58,177.07 559.61,175.13 559.64,178.66 559.67,174.75 559.70,176.64 559.73,173.19 559.76,174.59 559.79,171.29 559.82,173.95 559.85,171.34 559.88,173.46 559.91,170.55 559.94,172.82 559.97,168.74 560.00,169.38 560.03,166.93 560.07,170.48 560.10,166.47 560.14,168.43 560.17,164.20 560.21,168.02 560.24,163.73 560.28,166.56 560.31,164.11 560.35,166.45 560.38,162.76 560.42,165.45 560.45,162.52 560.49,164.65 560.52,161.77 560.56,164.29 560.59,161.32 560.63,163.85 560.66,160.84 560.70,163.78 560.73,160.47 560.77,161.90 560.80,158.50 560.89,161.78 560.97,158.66 561.06,161.92 561.14,159.49 561.23,162.83 561.31,161.07 561.40,164.53 561.49,163.00 561.57,166.09 561.66,163.17 561.74,165.49 561.83,161.96 561.91,166.66 562.00,164.92 562.06,167.22 562.11,164.07 562.17,166.09 562.23,162.61 562.28,165.66 562.34,161.39 562.40,164.57 562.45,161.02 562.51,163.79 562.57,159.93 562.62,161.49 562.68,159.03 562.73,161.95 562.79,158.94 562.85,161.93 562.90,157.04 562.96,159.26 563.02,156.90 563.07,160.13 563.13,156.43 563.19,157.84 563.24,153.83 563.30,156.62 563.39,153.37 563.48,156.89 563.57,155.41 563.66,158.75 563.75,156.56 563.85,159.55 563.94,157.64 564.03,161.30 564.12,159.11 564.21,160.84 564.30,158.23 564.39,161.59 564.48,158.75 564.57,163.29 564.66,160.77 564.75,164.81 564.85,163.26 564.94,165.99 565.03,164.55 565.12,166.31 565.21,164.52 565.30,167.29 565.35,163.45 565.40,165.27 565.44,161.34 565.49,164.38 565.54,160.80 565.59,163.21 565.64,160.37 565.69,163.65 565.73,160.89 565.78,163.44 565.83,159.74 565.88,161.73 565.93,156.56 565.98,158.89 566.02,155.71 566.07,158.72 566.12,155.36 566.17,158.33 566.22,154.80 566.27,157.11 566.31,155.15 566.36,157.27 566.41,154.93 566.46,157.39 566.51,153.20 566.56,154.06 566.60,151.63 566.65,154.04 566.70,151.84 567.10,155.68 567.50,153.23 567.90,154.83 568.30,152.06 568.35,153.86 568.41,151.40 568.46,153.41 568.51,151.37 568.56,153.60 568.62,149.17 568.67,150.97 568.72,147.92 568.77,150.88 568.83,148.29 568.88,149.86 568.93,146.51 568.98,148.17 569.04,145.60 569.09,149.39 569.14,144.85 569.19,146.08 569.25,143.16 569.30,145.93 569.35,142.74 569.41,145.06 569.46,140.78 569.51,143.67 569.56,141.50 569.62,144.65 569.67,141.57 569.72,144.08 569.77,139.63 569.83,141.78 569.88,138.79 569.93,140.52 569.98,137.98 570.04,140.11 570.09,137.42 570.14,140.98 570.19,135.96 570.25,138.07 570.30,134.31 570.36,136.23 570.42,132.83 570.47,136.26 570.53,135.01 570.59,135.85 570.65,132.35 570.71,133.62 570.77,131.47 570.83,134.53 570.88,130.93 570.94,131.74 571.00,129.24 571.06,132.40 571.12,129.68 571.17,130.88 571.23,127.34 571.29,129.02 571.35,125.97 571.41,128.21 571.47,125.25 571.53,127.20 571.58,125.55 571.64,127.43 571.70,124.38 571.78,126.71 571.87,122.82 571.95,125.07 572.03,121.52 572.11,124.84 572.20,122.66 572.28,124.40 572.36,121.21 572.44,122.55 572.53,119.56 572.61,123.83 572.69,120.54 572.77,123.70 572.86,119.27 572.94,121.47 573.02,117.94 573.10,118.95 573.19,116.94 573.27,118.10 573.35,114.96 573.43,117.12 573.52,115.18 573.60,117.27 573.63,114.96 573.66,117.67 573.69,115.32 573.71,119.06 573.74,116.72 573.77,119.78 573.80,117.26 573.83,121.74 573.86,118.43 573.89,120.51 573.91,118.73 573.94,122.87 573.97,120.52 574.00,122.78 574.03,120.12 574.06,122.73 574.09,120.04 574.11,123.78 574.14,121.66 574.17,124.98 574.20,122.99 574.23,127.55 574.26,125.23 574.29,128.11 574.31,126.62 574.34,129.21 574.37,126.45 574.40,130.07 574.43,127.09 574.46,130.49 574.49,128.57 574.51,132.36 574.54,129.06 574.57,133.16 574.60,130.33 574.63,133.17 574.66,129.98 574.69,134.17 574.71,133.67 574.74,135.24 574.77,131.40 574.80,134.89 574.85,133.34 574.91,135.80 574.96,132.30 575.01,132.76 575.07,130.00 575.12,134.26 575.17,131.67 575.22,131.90 575.28,128.76 575.33,130.36 575.38,127.11 575.44,129.71 575.49,126.99 575.54,128.45 575.60,125.70 575.65,127.96 575.70,124.45 575.76,126.47 575.81,122.97 575.86,126.86 575.92,123.75 575.97,126.57 576.02,122.08 576.08,123.79 576.13,121.69 576.18,123.19 576.23,120.57 576.29,122.80 576.34,120.04 576.39,123.00 576.45,119.47 576.50,120.52 576.56,117.60 576.62,120.80 576.69,118.58 576.75,121.83 576.81,120.31 576.87,122.97 576.93,121.55 577.00,123.88 577.06,123.04 577.12,126.13 577.18,123.37 577.24,127.47 577.30,125.45 577.37,128.97 577.43,126.79 577.49,129.19 577.55,127.40 577.61,130.37 577.68,127.17 577.74,130.55 577.80,127.02 577.86,130.51 577.92,127.55 577.97,129.57 578.03,124.87 578.09,127.36 578.15,125.15 578.20,126.71 578.26,125.24 578.32,127.55 578.38,124.66 578.43,126.50 578.49,120.68 578.55,124.88 578.61,121.78 578.66,125.40 578.72,121.72 578.78,124.99 578.84,121.50 578.89,122.45 578.95,120.22 579.01,121.98 579.07,119.01 579.12,120.88 579.18,117.53 579.24,119.40 579.30,115.70 579.35,117.68 579.41,114.31 579.47,117.41 579.53,113.68 579.58,117.03 579.64,115.99 579.70,117.51 579.72,113.34 579.74,115.28 579.76,111.80 579.79,114.37 579.81,111.70 579.83,112.80 579.85,109.58 579.87,113.15 579.89,110.29 579.91,112.44 579.93,108.14 579.96,110.79 579.98,107.99 580.00,110.08 580.02,106.10 580.04,107.96 580.06,105.12 580.08,106.55 580.10,103.76 580.13,105.81 580.15,102.39 580.17,105.63 580.19,101.98 580.21,105.00 580.23,102.17 580.25,104.79 580.27,101.89 580.30,102.57 580.32,100.18 580.34,103.49 580.36,100.40 580.38,102.39 580.40,99.33 580.42,102.05 580.44,98.62 580.47,101.07 580.49,97.95 580.51,100.25 580.53,96.46 580.55,97.37 580.57,94.53 580.59,96.98 580.61,94.90 580.64,96.57 580.66,93.92 580.68,97.12 580.70,92.26 580.88,95.31 581.06,93.35 581.24,97.20 581.42,95.64 581.60,98.14 581.71,94.11 581.82,98.22 581.93,97.02 582.04,99.69 582.16,96.63 582.27,99.65 582.38,97.72 582.49,100.77 582.60,98.07 582.64,100.46 582.68,96.58 582.72,99.19 582.76,96.05 582.80,99.02 582.85,96.36 582.89,99.70 582.93,94.89 582.97,96.11 583.01,93.08 583.05,96.36 583.09,94.05 583.13,95.33 583.17,91.15 583.21,93.84 583.25,90.33 583.30,92.44 583.34,89.98 583.38,92.58 583.42,88.99 583.46,90.11 583.50,87.37 583.52,89.52 583.55,87.92 583.57,88.58 583.59,87.04 583.61,87.98 583.64,86.54 583.66,86.92 583.68,85.47 583.70,85.94 583.73,85.16 583.75,85.97 583.77,84.62 583.80,85.18 583.82,83.72 583.84,84.27 583.86,82.84 583.89,83.38 583.91,81.79 583.93,81.97 583.95,80.29 583.98,80.23 584.00,78.83 584.01,79.91 584.02,78.48 584.03,79.68 584.04,77.76 584.05,77.80 584.05,76.09 584.06,76.88 584.07,76.10 584.08,76.65 584.09,75.64 584.10,76.18 584.11,74.48 584.12,74.52 584.13,72.83 584.14,72.83 584.15,71.72 584.15,72.79 584.16,71.87 584.17,71.80 584.18,69.94 584.19,70.30 584.20,69.04 584.21,69.36 584.22,68.26 584.23,68.94 584.24,67.73 584.25,67.78 584.25,66.44 584.26,67.10 584.27,66.06 584.28,66.84 584.29,64.47 584.30,64.74 584.31,63.89 584.32,64.53 584.33,63.19 584.34,63.05 584.35,61.72 584.36,62.23 584.37,60.95 584.38,61.58 584.38,60.85 584.39,60.93 584.40,59.24 584.41,59.38 584.42,58.44 584.43,59.63 584.44,58.12 584.45,58.47 584.46,56.66 584.47,57.27 584.48,56.24 584.49,56.78 584.50,55.78 584.51,56.21 584.52,54.22 584.53,54.41 584.54,53.32 584.55,54.10 584.55,52.57 584.56,53.07 584.57,51.45 584.58,52.00 584.59,50.53 584.60,51.20 584.61,49.43 584.62,50.16 584.63,48.98 584.64,49.33 584.65,48.30 584.66,48.42 584.67,46.95 584.68,47.79 584.69,46.49 584.70,46.51 584.71,45.08 584.72,45.36 584.72,44.10 584.73,44.62 584.74,43.81 584.75,44.30 584.76,42.98 584.77,43.43 584.78,41.91 584.79,41.85 584.80,40.17 585.30,41.40 585.80,40.23 586.07,42.28 586.33,41.37 586.60,42.63 586.61,42.31 586.62,43.81 586.64,42.94 586.65,44.06 586.66,43.46 586.67,45.49 586.69,45.10 586.70,46.27 586.71,45.94 586.72,47.59 586.73,47.13 586.75,48.27 586.76,47.30 586.77,48.03 586.78,48.10 586.80,50.27 586.81,49.39 586.82,51.48 586.83,49.84 586.84,51.16 586.86,51.05 586.87,53.18 586.88,51.96 586.89,53.31 586.91,52.01 586.92,53.56 586.93,53.16 586.94,54.32 586.96,53.38 586.97,56.00 586.98,55.45 586.99,56.97 587.00,56.08 587.02,57.49 587.03,57.03 587.04,58.07 587.05,57.78 587.07,59.47 587.08,59.13 587.09,60.00 587.10,59.60 587.11,61.02 587.13,60.32 587.14,62.18 587.15,62.07 587.16,63.82 587.18,62.87 587.19,64.05 587.20,63.61 587.21,64.09 587.22,62.47 587.23,63.27 587.24,61.93 587.24,62.53 587.25,61.25 587.26,61.91 587.27,60.00 587.28,60.07 587.29,58.77 587.30,59.50 587.31,58.16 587.32,58.38 587.33,57.41 587.33,57.47 587.34,56.31 587.35,56.55 587.36,55.34 587.37,55.70 587.38,53.83 587.39,55.05 587.40,53.78 587.41,54.66 587.41,53.33 587.42,54.64 587.43,52.26 587.44,52.93 587.45,50.84 587.46,51.74 587.47,49.87 587.48,50.18 587.49,48.93 587.49,49.73 587.50,48.87 587.51,49.20 587.52,48.03 587.53,48.46 587.54,46.97 587.55,47.31 587.56,45.72 587.57,46.29 587.58,45.01 587.58,45.54 587.59,44.18 587.60,44.45 587.61,42.91 587.62,43.13 587.63,42.37 587.64,42.75 587.65,41.13 587.66,41.12 587.66,39.93 587.67,40.16 587.68,39.17 587.69,39.59 587.70,38.45 588.10,39.07 588.50,38.08 588.52,39.40 588.55,39.10 588.57,40.83 588.59,39.73 588.62,40.51 588.64,40.09 588.66,42.06 588.68,42.16 588.71,43.34 588.73,42.97 588.75,44.63 588.78,43.35 588.80,45.17 588.82,44.45 588.85,45.55 588.87,45.39 588.89,46.88 588.92,46.51 588.94,47.23 588.96,46.41 588.98,48.17 589.01,47.59 589.03,48.98 589.05,48.34 589.08,49.93 589.10,48.85 589.12,49.31 589.14,47.88 589.16,48.65 589.18,47.06 589.20,48.23 589.23,46.71 589.25,47.47 589.27,46.06 589.29,46.42 589.31,44.86 589.33,45.02 589.35,44.10 589.37,44.80 589.39,43.20 589.41,43.38 589.43,41.66 589.45,42.61 589.48,41.21 589.50,41.88 589.52,40.62 589.54,41.08 589.56,40.08 589.58,40.70 589.60,39.27 589.62,40.64 589.63,40.11 589.65,41.25 589.67,40.30 589.68,42.67 589.70,41.53 589.72,43.26 589.73,42.03 589.75,44.10 589.77,43.68 589.78,45.33 589.80,44.57 589.82,45.40 589.83,45.09 589.85,46.17 589.87,45.83 589.88,47.12 589.90,46.94 589.92,48.55 589.93,47.56 589.95,50.32 589.97,49.47 589.98,50.66 590.00,50.26 590.02,50.32 590.04,49.19 590.06,49.28 590.08,47.51 590.10,47.86 590.11,46.29 590.13,47.08 590.15,45.75 590.17,46.39 590.19,44.92 590.21,45.95 590.23,44.61 590.25,44.97 590.27,43.88 590.29,44.12 590.30,42.22 590.32,42.74 590.34,41.22 590.36,41.88 590.38,40.07 590.40,40.98 590.41,40.37 590.42,41.25 590.42,41.00 590.43,43.21 590.44,43.01 590.45,44.55 590.45,43.23 590.46,44.44 590.47,43.61 590.48,45.12 590.49,44.66 590.49,46.37 590.50,45.94 590.51,47.34 590.52,46.98 590.52,48.15 590.53,47.51 590.54,49.14 590.55,48.71 590.56,50.08 590.56,49.19 590.57,50.27 590.58,49.73 590.59,51.63 590.60,51.06 590.60,52.81 590.61,52.37 590.62,53.29 590.63,52.78 590.63,54.03 590.64,53.93 590.65,55.19 590.65,53.90 590.65,54.65 590.65,53.25 590.65,54.18 590.66,52.47 590.66,52.72 590.66,51.56 590.66,52.23 590.66,50.81 590.66,51.01 590.66,49.58 590.66,49.45 590.67,48.55 590.67,48.93 590.67,47.52 590.67,47.77 590.67,46.48 590.67,47.12 590.67,45.68 590.67,45.89 590.68,44.62 590.68,44.98 590.68,43.62 590.68,44.10 590.68,42.90 590.68,44.05 590.68,41.48 590.69,42.82 590.69,41.22 590.69,41.84 590.69,40.41 590.69,40.40 590.69,39.38 590.69,39.83 590.69,38.27 590.70,38.51 590.70,37.37 590.70,37.59 590.70,36.47 590.70,37.00"/>
  <g class="ticks">
  <text x="103" y="446.6">2005</text>
  <text x="222" y="446.6">2010</text>
  <text x="340.5" y="446.6">2015</text>
  <text x="459" y="446.6">2020</text>
  </g>
</svg>
</body>
</html>
